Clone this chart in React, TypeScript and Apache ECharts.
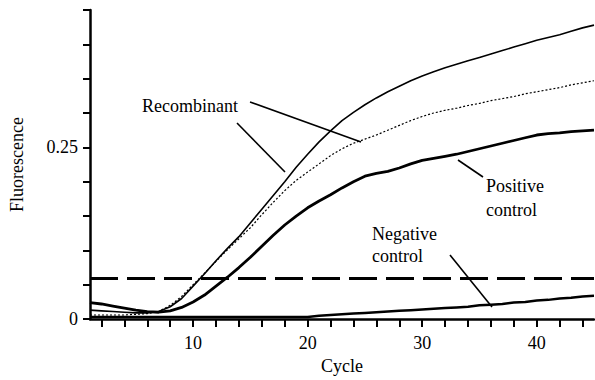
import React, { useEffect, useRef } from "react";
import * as echarts from "echarts";

const cycles: string[] = Array.from({ length: 45 }, (_, i) => String(i + 1));

const recombinantA = [
  0.013, 0.012, 0.011, 0.010, 0.009, 0.009, 0.011, 0.018, 0.030, 0.048,
  0.066, 0.085, 0.103, 0.120, 0.140, 0.160, 0.180, 0.200, 0.221, 0.240,
  0.258, 0.274, 0.289, 0.301, 0.312, 0.322, 0.331, 0.339, 0.347, 0.354,
  0.360, 0.366, 0.371, 0.376, 0.381, 0.386, 0.391, 0.396, 0.401, 0.406,
  0.410, 0.414, 0.419, 0.424, 0.428,
];

const recombinantB = [
  0.006, 0.006, 0.006, 0.006, 0.007, 0.008, 0.011, 0.020, 0.033, 0.050,
  0.067, 0.084, 0.101, 0.117, 0.133, 0.152, 0.170, 0.187, 0.202, 0.214,
  0.226, 0.238, 0.248, 0.256, 0.262, 0.268, 0.275, 0.282, 0.289, 0.295,
  0.300, 0.304, 0.307, 0.311, 0.314, 0.318, 0.321, 0.324, 0.328, 0.331,
  0.334, 0.337, 0.341, 0.344, 0.347,
];

const positiveControl = [
  0.024, 0.022, 0.019, 0.016, 0.013, 0.011, 0.010, 0.012, 0.017, 0.025,
  0.035, 0.048, 0.061, 0.075, 0.090, 0.106, 0.122, 0.137, 0.150, 0.162,
  0.172, 0.181, 0.191, 0.200, 0.208, 0.212, 0.215, 0.220, 0.226, 0.231,
  0.234, 0.237, 0.240, 0.244, 0.248, 0.252, 0.256, 0.260, 0.264, 0.268,
  0.270, 0.271, 0.273, 0.274, 0.275,
];

const negativeControl = [
  0.003, 0.003, 0.003, 0.003, 0.003, 0.003, 0.003, 0.003, 0.003, 0.003,
  0.003, 0.003, 0.003, 0.003, 0.003, 0.003, 0.003, 0.003, 0.003, 0.003,
  0.005, 0.006, 0.007, 0.008, 0.009, 0.010, 0.011, 0.012, 0.013, 0.014,
  0.015, 0.016, 0.017, 0.018, 0.020, 0.021, 0.022, 0.024, 0.025, 0.027,
  0.028, 0.030, 0.031, 0.033, 0.034,
];

const threshold = 0.06;
const yTickLabels: Record<string, string> = { "0": "0", "0.25": "0.25" };

const FONT = "Liberation Serif";
const FS = 18;

export default function App() {
  const ref = useRef<HTMLDivElement>(null);
  useEffect(() => {
    if (!ref.current) return;
    const chart = echarts.init(ref.current, undefined, { renderer: "svg" });
    const annot = { fontFamily: FONT, fontSize: FS, color: "#000", fontWeight: "normal" as const };
    chart.setOption({
      animation: false,
      backgroundColor: "#fff",
      title: [
        { text: "Recombinant", left: 142, top: 97, padding: 0, textStyle: { ...annot, lineHeight: 18 } },
        { text: "Positive\ncontrol", left: 486, top: 174, padding: 0, textStyle: { ...annot, lineHeight: 24 } },
        { text: "Negative\ncontrol", left: 372, top: 223, padding: 0, textStyle: { ...annot, lineHeight: 22 } },
      ],
      grid: { left: 89, right: 1, top: 10, bottom: 56 },
      xAxis: {
        type: "category",
        data: cycles,
        boundaryGap: false,
        name: "Cycle",
        nameLocation: "middle",
        nameGap: 37,
        nameTextStyle: { fontFamily: FONT, fontSize: FS, color: "#000" },
        axisLine: { lineStyle: { color: "#000", width: 2.5 } },
        axisTick: {
          length: 8,
          lineStyle: { color: "#000", width: 2 },
          interval: (_i: number, v: string) => Number(v) % 2 === 0,
        },
        axisLabel: {
          interval: (_i: number, v: string) => Number(v) % 10 === 0,
          fontFamily: FONT,
          fontSize: FS,
          color: "#000",
          margin: 15,
        },
        splitLine: { show: false },
      },
      yAxis: {
        type: "value",
        min: 0,
        max: 0.45,
        interval: 0.05,
        name: "Fluorescence",
        nameLocation: "middle",
        nameGap: 64,
        nameTextStyle: { fontFamily: FONT, fontSize: FS, color: "#000" },
        axisLine: { show: true, lineStyle: { color: "#000", width: 2.5 } },
        axisTick: { show: true, length: 7, lineStyle: { color: "#000", width: 2 } },
        axisLabel: {
          fontFamily: FONT,
          fontSize: FS,
          color: "#000",
          margin: 12,
          formatter: (v: number) => {
            const k = String(Math.round(v * 100) / 100);
            return yTickLabels[k] ?? "";
          },
        },
        splitLine: { show: false },
      },
      series: [
        {
          name: "Negative control",
          type: "line",
          data: negativeControl,
          symbol: "none",
          lineStyle: { color: "#000", width: 2.5 },
          markLine: {
            silent: true,
            symbol: "none",
            label: { show: false },
            lineStyle: { color: "#000", width: 3, type: [28, 9] },
            data: [{ yAxis: threshold }],
          },
        },
        {
          name: "Positive control",
          type: "line",
          data: positiveControl,
          symbol: "none",
          lineStyle: { color: "#000", width: 2.8 },
        },
        {
          name: "Recombinant (dotted)",
          type: "line",
          data: recombinantB,
          symbol: "none",
          lineStyle: { color: "#000", width: 1.2, type: [2, 2] },
        },
        {
          name: "Recombinant",
          type: "line",
          data: recombinantA,
          symbol: "none",
          lineStyle: { color: "#000", width: 1.6 },
        },
      ],
      graphic: [
        { type: "line", shape: { x1: 250, y1: 102, x2: 361, y2: 142 }, style: { stroke: "#000", lineWidth: 1.6 } },
        { type: "line", shape: { x1: 237, y1: 123, x2: 285, y2: 172 }, style: { stroke: "#000", lineWidth: 1.6 } },
        { type: "line", shape: { x1: 458, y1: 160, x2: 483, y2: 177 }, style: { stroke: "#000", lineWidth: 1.6 } },
        { type: "line", shape: { x1: 450, y1: 255, x2: 492, y2: 307 }, style: { stroke: "#000", lineWidth: 1.6 } },
      ],
    });
    return () => chart.dispose();
  }, []);
  return (
    <div
      ref={ref}
      style={{ position: "fixed", left: 0, top: 0, width: 595, height: 380, background: "#fff" }}
    />
  );
}
